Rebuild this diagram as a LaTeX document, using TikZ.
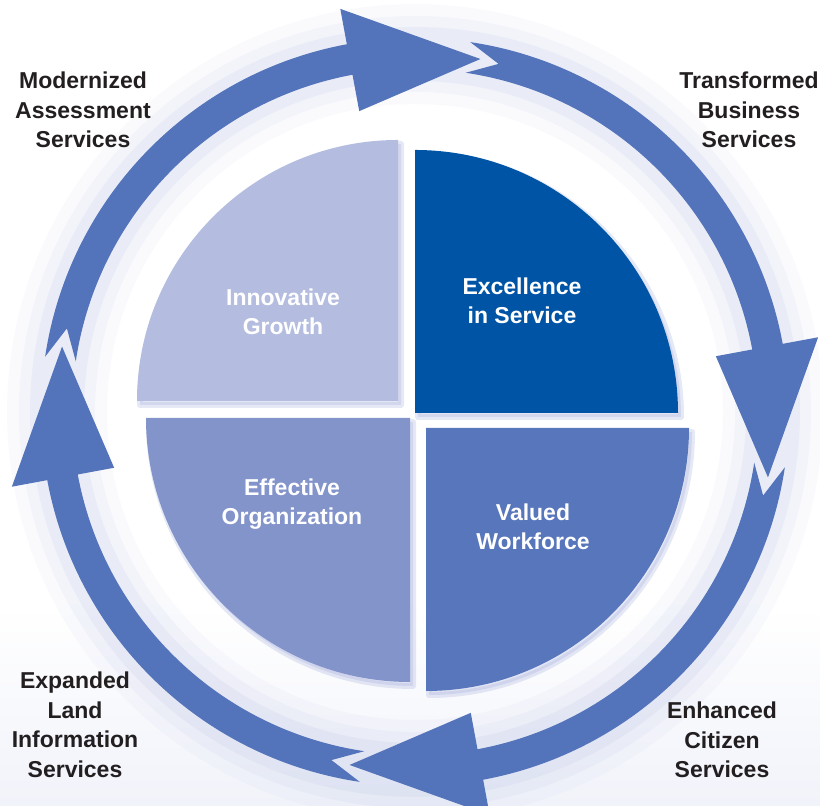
\documentclass[tikz,border=0pt]{standalone}
\usepackage{fontspec}
\setmainfont{Liberation Sans}

\definecolor{ringblue}{RGB}{83,115,186}
\definecolor{innovblue}{RGB}{180,189,224}
\definecolor{excelblue}{RGB}{0,84,165}
\definecolor{effectblue}{RGB}{131,148,203}
\definecolor{valuedblue}{RGB}{88,118,187}
\definecolor{hazeblue}{RGB}{168,178,222}
\definecolor{labelblack}{RGB}{35,31,32}
\definecolor{floorgray}{RGB}{241,243,250}

\tikzset{
  outer label/.style={align=center, text=labelblack,
    font=\bfseries\fontsize{11.5}{14.75}\selectfont},
  inner label/.style={outer label, text=white},
  soft shadow/.style={draw=hazeblue, fill=hazeblue, line join=round, opacity=0.3, line width=3pt},
}

\begin{document}
\begin{tikzpicture}[x=0.5pt, y=0.5pt]
    \useasboundingbox (0,0) rectangle (820,806);
    \shade[top color=white, bottom color=floorgray] (0,0) rectangle (820,200);

    %define the ring of arrows
    \begin{scope}[shift={(415,394)}]
      \foreach \w/\o in {50/0.06, 38/0.09, 27/0.12}
        \draw[hazeblue, opacity=\o, line width=\w pt] (0,0) circle[radius=358];
      \foreach \tip in {79.5,-10.5,-100.5,169.5}
        \fill[ringblue] (\tip+92:374) arc[start angle=\tip+92, end angle=\tip+21, radius=374]
          -- (\tip+21:410) -- (\tip:359) -- (\tip+21:306) -- (\tip+21:343)
          arc[start angle=\tip+21, end angle=\tip+92, radius=343]
          -- (\tip+87:358) -- cycle;
    \end{scope}

    %define the four quarters
    \begin{scope}[shift={(398,405)}]
      \path[soft shadow] (3,-4) -- (3,257) arc[start angle=90, end angle=180, radius=261] -- cycle;
      \fill[innovblue] (0,0) -- (0,261) arc[start angle=90, end angle=180, radius=261] -- cycle;
    \end{scope}
    \begin{scope}[shift={(415,393)}]
      \path[soft shadow] (3,-4) -- (266,-4) arc[start angle=0, end angle=90, radius=263] -- cycle;
      \fill[excelblue] (0,0) -- (263,0) arc[start angle=0, end angle=90, radius=263] -- cycle;
    \end{scope}
    \begin{scope}[shift={(410,388)}]
      \path[soft shadow] (3,-4) -- (-261,-4) arc[start angle=180, end angle=270, radius=264] -- cycle;
      \fill[effectblue] (0,0) -- (-264,0) arc[start angle=180, end angle=270, radius=264] -- cycle;
    \end{scope}
    \begin{scope}[shift={(426,378)}]
      \path[soft shadow] (3,-4) -- (3,-267) arc[start angle=270, end angle=360, radius=263] -- cycle;
      \fill[valuedblue] (0,0) -- (0,-263) arc[start angle=270, end angle=360, radius=263] -- cycle;
    \end{scope}

    %define the labels
    \node[inner label] (innov)  at (283,494) {Innovative\\Growth};
    \node[inner label] (excel)  at (522,505) {Excellence\\in Service};
    \node[inner label] (effect) at (292,302) {Effective\\Organization};
    \node[inner label] (valued) at (533,279) {Valued\\Workforce};

    \node[outer label] (mas)  at (83,696)  {Modernized\\Assessment\\Services};
    \node[outer label] (tbs)  at (749,696) {Transformed\\Business\\Services};
    \node[outer label] (ecs)  at (722,66)  {Enhanced\\Citizen\\Services};
    \node[outer label] (elis) at (75,81)   {Expanded\\Land\\Information\\Services};
\end{tikzpicture}
\end{document}
